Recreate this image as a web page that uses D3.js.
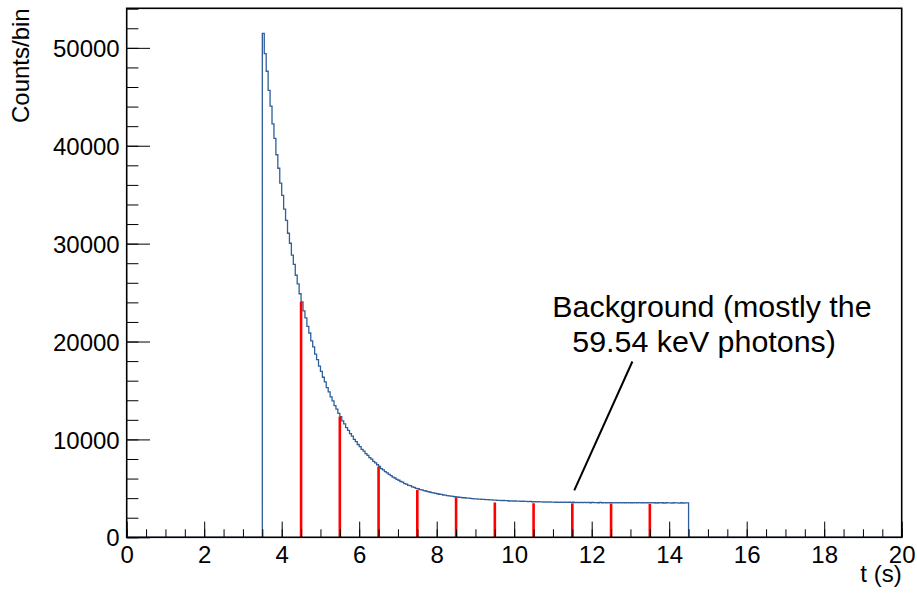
<!DOCTYPE html>
<html>
<head>
<meta charset="utf-8">
<script src="https://cdn.jsdelivr.net/npm/d3@7/dist/d3.min.js"></script>
<style>
  html, body { margin: 0; padding: 0; background: #fff; }
  svg { display: block; }
  text { font-family: "Liberation Sans", Arial, Helvetica, sans-serif; fill: #000; }
</style>
</head>
<body>
<svg id="chart" width="917" height="594"></svg>
<script>
// ---------------- data ----------------
const tStart = 3.5;        // first non-empty bin (s)
const binWidth = 0.05;     // bin width (s)
const counts = [
  51470, 49420, 47610, 45650, 44050, 42230, 40760, 39080, 37700, 36190, 34920, 33530, 32380, 31060, 30040, 28830, 27880, 26770, 25890, 24880,
  24060, 23130, 22410, 21540, 20870, 20060, 19460, 18720, 18160, 17480, 16960, 16350, 15870, 15300, 14860, 14340, 13940, 13460, 13090, 12650,
  12320, 11900, 11590, 11210, 10930, 10590, 10340, 10010, 9780, 9480, 9270, 8990, 8800, 8550, 8370, 8140, 7980, 7760, 7610, 7410,
  7240, 7020, 6890, 6710, 6590, 6420, 6310, 6150, 6060, 5920, 5830, 5700, 5630, 5490, 5440, 5310, 5270, 5150, 5110, 5000,
  4960, 4870, 4840, 4760, 4730, 4660, 4630, 4560, 4540, 4480, 4450, 4400, 4380, 4320, 4310, 4260, 4240, 4200, 4180, 4140,
  4130, 4090, 4080, 4040, 4040, 4000, 4000, 3970, 3960, 3930, 3930, 3900, 3900, 3870, 3870, 3840, 3850, 3820, 3820, 3790,
  3800, 3770, 3780, 3750, 3760, 3740, 3740, 3710, 3730, 3700, 3710, 3690, 3690, 3670, 3690, 3660, 3660, 3640, 3660, 3630,
  3650, 3620, 3640, 3610, 3620, 3600, 3620, 3590, 3610, 3590, 3600, 3580, 3600, 3570, 3590, 3570, 3590, 3560, 3580, 3560,
  3580, 3550, 3570, 3550, 3570, 3540, 3560, 3540, 3570, 3530, 3560, 3540, 3550, 3530, 3560, 3530, 3550, 3520, 3550, 3530,
  3550, 3520, 3540, 3520, 3540, 3520, 3550, 3510, 3540, 3520, 3530, 3510, 3540, 3510, 3540, 3520, 3530, 3510, 3530, 3510,
  3540, 3510, 3530, 3500, 3530, 3510, 3530, 3500, 3530, 3510, 3520, 3500, 3530, 3510, 3520, 3500, 3530, 3500, 3520, 3510
];
const markerT = [4.5, 5.5, 6.5, 7.5, 8.5, 9.5, 10.5, 11.5, 12.5, 13.5];
const markerCounts = [24060, 12320, 7210, 4830, 4085, 3560, 3480, 3470, 3440, 3420];

const xDomain = [0, 20];
const yDomain = [0, 54040];
const xMajorTicks = [0, 2, 4, 6, 8, 10, 12, 14, 16, 18, 20];
const yMajorTicks = [0, 10000, 20000, 30000, 40000, 50000];
const xTitle = "t (s)";
const yTitle = "Counts/bin";
const noteLines = ["Background (mostly the", "59.54 keV photons)"];

// ---------------- layout ----------------
const L = 126.7, R = 901.7, T = 8.3, B = 537.3;
const svg = d3.select("#chart");
const x = d3.scaleLinear().domain(xDomain).range([L, R]);
const y = d3.scaleLinear().domain(yDomain).range([B, T]);

// histogram
const pts = [[xDomain[0], 0]]
  .concat(counts.map((c, i) => [tStart + i * binWidth, c]))
  .concat([[tStart + counts.length * binWidth, 0], [xDomain[1], 0]]);
const line = d3.line().x(d => x(d[0])).y(d => y(d[1])).curve(d3.curveStepAfter);
svg.append("path")
  .attr("d", line(pts))
  .attr("fill", "none")
  .attr("stroke", "#2f5f9b")
  .attr("stroke-width", 1.3);

// red markers
svg.append("g").selectAll("line")
  .data(markerT.map((t, i) => [t, markerCounts[i]]))
  .join("line")
  .attr("x1", d => x(d[0])).attr("x2", d => x(d[0]))
  .attr("y1", y(0)).attr("y2", d => y(d[1]))
  .attr("stroke", "#ff0000")
  .attr("stroke-width", 2.6);

// axes
const fontSize = 24;
function styleAxis(g) {
  g.select(".domain").remove();
  g.selectAll("line").attr("stroke", "#000").attr("stroke-width", 1);
  g.selectAll("text").attr("font-size", fontSize).attr("fill", "#000")
    .attr("font-family", '"Liberation Sans", Arial, sans-serif');
}
const xMinor = d3.range(0, 20.001, 0.5);
svg.append("g").attr("transform", `translate(0,${B})`)
  .call(d3.axisBottom(x).tickValues(xMinor).tickFormat("").tickSize(-8).tickSizeOuter(0))
  .call(styleAxis);
svg.append("g").attr("transform", `translate(0,${B})`)
  .call(d3.axisBottom(x).tickValues(xMajorTicks).tickFormat(d3.format("d")).tickSize(-15.7).tickSizeOuter(0).tickPadding(8.5))
  .call(styleAxis);

const yMinor = d3.range(0, 54001, 2000);
svg.append("g").attr("transform", `translate(${L},0)`)
  .call(d3.axisLeft(y).tickValues(yMinor).tickFormat("").tickSize(-11.7).tickSizeOuter(0))
  .call(styleAxis);
svg.append("g").attr("transform", `translate(${L},0)`)
  .call(d3.axisLeft(y).tickValues(yMajorTicks).tickFormat(d3.format("d")).tickSize(-23.3).tickSizeOuter(0).tickPadding(7))
  .call(styleAxis)
  .call(g => g.selectAll("text").attr("dy", "0.36em"));

// frame
svg.append("rect")
  .attr("x", L).attr("y", T).attr("width", R - L).attr("height", B - T)
  .attr("fill", "none").attr("stroke", "#000").attr("stroke-width", 1.6);

// axis titles
svg.append("text")
  .attr("x", R).attr("y", 582)
  .attr("text-anchor", "end")
  .attr("font-size", fontSize)
  .text(xTitle);
svg.append("text")
  .attr("transform", `translate(29,${T}) rotate(-90)`)
  .attr("text-anchor", "end")
  .attr("font-size", fontSize)
  .text(yTitle);

// annotation
svg.append("text").attr("x", 552.3).attr("y", 316.5).attr("font-size", 30.4).text(noteLines[0]);
svg.append("text").attr("x", 572.3).attr("y", 351.5).attr("font-size", 30.4).text(noteLines[1]);
svg.append("line")
  .attr("x1", x(11.55)).attr("y1", y(4800))
  .attr("x2", x(13.05)).attr("y2", y(17960))
  .attr("stroke", "#000").attr("stroke-width", 2);
</script>
</body>
</html>
